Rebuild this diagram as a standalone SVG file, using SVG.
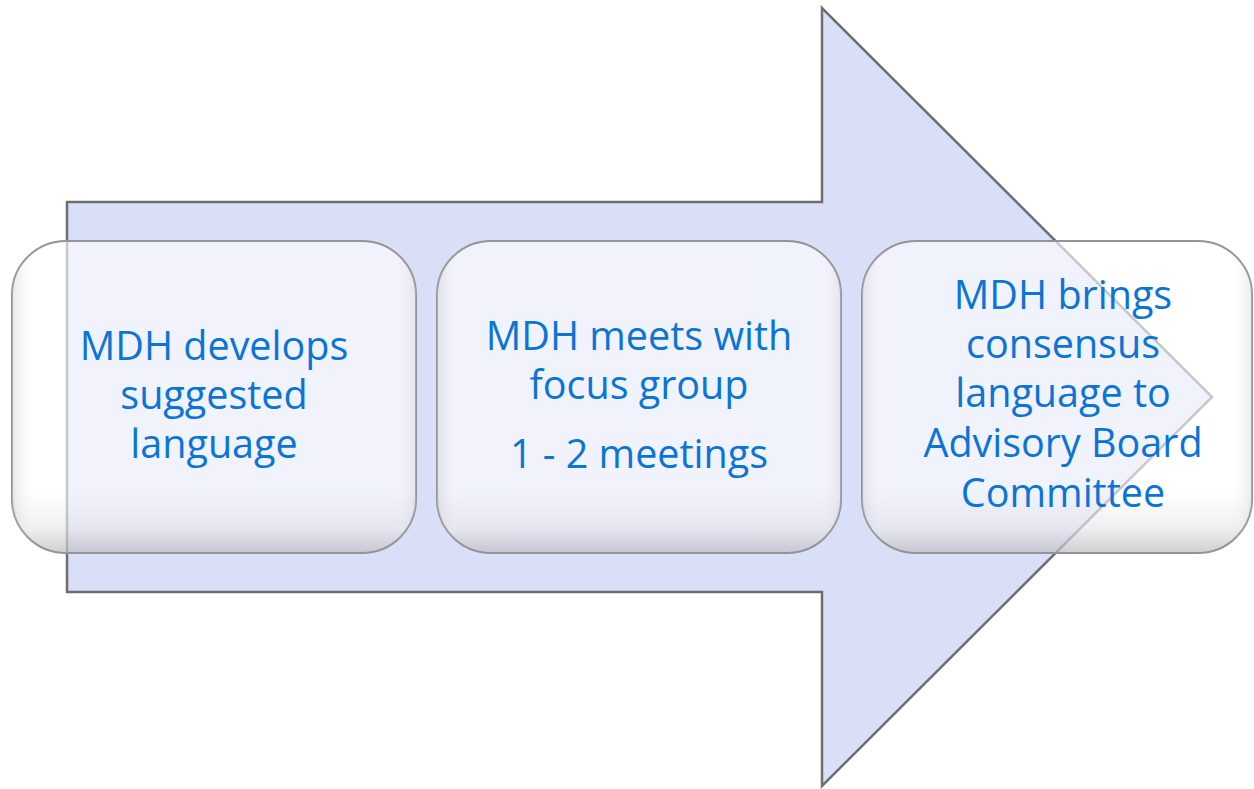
<svg xmlns="http://www.w3.org/2000/svg" width="1254" height="789" viewBox="0 0 1254 789">
  <defs>
    <linearGradient id="gloss" x1="0" y1="0" x2="0" y2="1">
      <stop offset="0" stop-color="#ffffff" stop-opacity="0.62"/>
      <stop offset="0.8" stop-color="#ffffff" stop-opacity="0.62"/>
      <stop offset="0.92" stop-color="#e8e8ec" stop-opacity="0.68"/>
      <stop offset="1" stop-color="#bdbdc1" stop-opacity="0.72"/>
    </linearGradient>
    <linearGradient id="side" x1="0" y1="0" x2="1" y2="0">
      <stop offset="0" stop-color="#c8c8cc" stop-opacity="0.45"/>
      <stop offset="0.06" stop-color="#ffffff" stop-opacity="0"/>
      <stop offset="0.94" stop-color="#ffffff" stop-opacity="0"/>
      <stop offset="1" stop-color="#c8c8cc" stop-opacity="0.35"/>
    </linearGradient>
  </defs>
  <style>
    .arrow { fill: #dadff8; stroke: #6e6e72; stroke-width: 2.5; stroke-linejoin: miter; }
    .box { fill: url(#gloss); stroke: #949498; stroke-width: 2; }
    .boxside { fill: url(#side); stroke: none; }
    .lbl { font-family: "Open Sans", "Liberation Sans", sans-serif; font-size: 39.5px; fill: #0b74d6; text-anchor: middle; }
  </style>
  <rect width="1254" height="789" fill="#ffffff"/>
  <g id="connectors">
    <polygon id="big-arrow" class="arrow" points="67,202 822,202 822,8 1212,397 822,786 822,592 67,592"/>
  </g>
  <g id="node1">
    <rect class="box" x="12" y="241" width="404" height="312" rx="54" ry="54"/>
    <rect class="boxside" x="12" y="241" width="404" height="312" rx="54" ry="54"/>
    <text class="lbl" x="214" y="360">MDH develops</text>
    <text class="lbl" x="214" y="409">suggested</text>
    <text class="lbl" x="214" y="458">language</text>
  </g>
  <g id="node2">
    <rect class="box" x="437" y="241" width="404" height="312" rx="54" ry="54"/>
    <rect class="boxside" x="437" y="241" width="404" height="312" rx="54" ry="54"/>
    <text class="lbl" x="639" y="350">MDH meets with</text>
    <text class="lbl" x="639" y="399">focus group</text>
    <text class="lbl" x="639" y="468">1 - 2 meetings</text>
  </g>
  <g id="node3">
    <rect class="box" x="862" y="241" width="390" height="312" rx="54" ry="54"/>
    <rect class="boxside" x="862" y="241" width="390" height="312" rx="54" ry="54"/>
    <text class="lbl" x="1063" y="309">MDH brings</text>
    <text class="lbl" x="1063" y="358">consensus</text>
    <text class="lbl" x="1063" y="407">language to</text>
    <text class="lbl" x="1063" y="457">Advisory Board</text>
    <text class="lbl" x="1063" y="507">Committee</text>
  </g>
</svg>
